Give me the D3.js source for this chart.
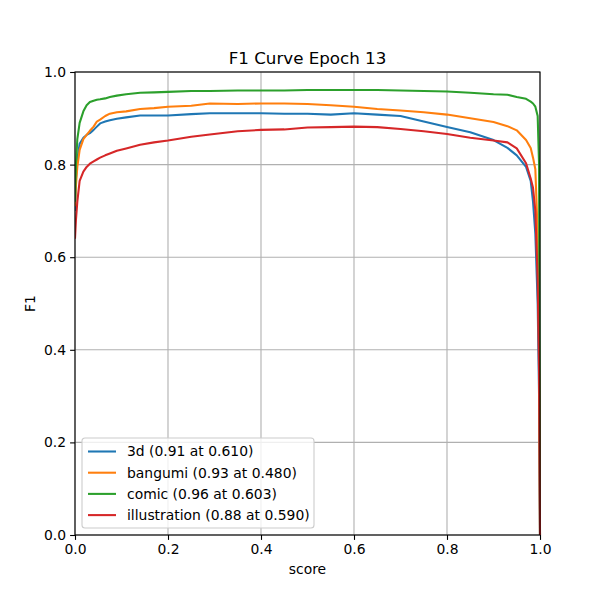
<!DOCTYPE html>
<html>
<head>
<meta charset="utf-8">
<script src="https://cdn.jsdelivr.net/npm/d3@7"></script>
<style>
  body { margin: 0; background: #fff; }
  svg { font-family: "DejaVu Sans", sans-serif; }
</style>
</head>
<body>
<svg width="600" height="600"></svg>
<script>
// score thresholds (shared x values)
let scores = [0, 0.002, 0.005, 0.01, 0.018, 0.025, 0.032, 0.04, 0.047, 0.054, 0.065, 0.075, 0.09, 0.11, 0.14, 0.17, 0.2, 0.25, 0.29, 0.35,
  0.4, 0.45, 0.5, 0.55, 0.6, 0.65, 0.7, 0.75, 0.8, 0.85, 0.9, 0.93, 0.95, 0.97, 0.98, 0.985, 0.99, 0.995, 0.998, 1.0];

let f1_3d = [0.70, 0.77, 0.81, 0.845, 0.858, 0.864, 0.868, 0.875, 0.882, 0.889, 0.893, 0.896, 0.899, 0.902, 0.906, 0.906, 0.906, 0.909, 0.911, 0.911,
  0.911, 0.910, 0.910, 0.908, 0.911, 0.908, 0.905, 0.893, 0.881, 0.870, 0.853, 0.836, 0.820, 0.795, 0.765, 0.72, 0.65, 0.5, 0.3, 0.0];
let f1_bangumi = [0.71, 0.755, 0.795, 0.832, 0.855, 0.864, 0.873, 0.882, 0.893, 0.897, 0.905, 0.91, 0.913, 0.915, 0.92, 0.922, 0.925, 0.927, 0.932, 0.931,
  0.932, 0.932, 0.931, 0.928, 0.925, 0.920, 0.917, 0.913, 0.908, 0.900, 0.892, 0.883, 0.874, 0.853, 0.836, 0.815, 0.79, 0.65, 0.4, 0.0];
let f1_comic = [0.72, 0.80, 0.855, 0.89, 0.915, 0.928, 0.935, 0.938, 0.94, 0.941, 0.943, 0.946, 0.949, 0.952, 0.955, 0.956, 0.957, 0.959, 0.959, 0.960,
  0.960, 0.960, 0.961, 0.961, 0.961, 0.961, 0.960, 0.959, 0.958, 0.955, 0.952, 0.951, 0.946, 0.942, 0.936, 0.932, 0.925, 0.905, 0.80, 0.0];
let f1_illustration = [0.64, 0.68, 0.72, 0.765, 0.785, 0.795, 0.802, 0.807, 0.811, 0.815, 0.82, 0.824, 0.83, 0.835, 0.843, 0.848, 0.852, 0.86, 0.865, 0.872,
  0.875, 0.876, 0.88, 0.881, 0.882, 0.881, 0.877, 0.872, 0.866, 0.858, 0.852, 0.848, 0.835, 0.803, 0.77, 0.75, 0.70, 0.55, 0.35, 0.0];

let seriesNames = ["3d (0.91 at 0.610)", "bangumi (0.93 at 0.480)", "comic (0.96 at 0.603)", "illustration (0.88 at 0.590)"];
let seriesValues = [f1_3d, f1_bangumi, f1_comic, f1_illustration];
let colors = ["#1f77b4", "#ff7f0e", "#2ca02c", "#d62728"];
let tickValues = [0, 0.2, 0.4, 0.6, 0.8, 1.0];

let margin = {top: 72, right: 60, bottom: 65, left: 75};
let svg = d3.select("svg");
let plotWidth = 600 - margin.left - margin.right;
let plotHeight = 600 - margin.top - margin.bottom;

let x = d3.scaleLinear().domain([0, 1]).range([0, plotWidth]);
let y = d3.scaleLinear().domain([0, 1]).range([plotHeight, 0]);

let g = svg.append("g").attr("transform", "translate(" + margin.left + "," + margin.top + ")");

// grid
g.selectAll(".gx").data(tickValues).enter().append("line")
  .attr("x1", d => x(d)).attr("x2", d => x(d))
  .attr("y1", 0).attr("y2", plotHeight)
  .attr("stroke", "#b0b0b0").attr("stroke-width", 1.1);
g.selectAll(".gy").data(tickValues).enter().append("line")
  .attr("y1", d => y(d)).attr("y2", d => y(d))
  .attr("x1", 0).attr("x2", plotWidth)
  .attr("stroke", "#b0b0b0").attr("stroke-width", 1.1);

// curves
let line = d3.line()
  .x((d, i) => x(scores[i]))
  .y(d => y(d));

g.append("defs").append("clipPath").attr("id", "clip")
  .append("rect").attr("x", 0).attr("y", -2).attr("width", plotWidth + 2).attr("height", plotHeight + 4);

g.append("g").attr("clip-path", "url(#clip)")
  .selectAll("path").data(seriesValues).enter().append("path")
  .attr("d", line)
  .attr("fill", "none")
  .attr("stroke", (d, i) => colors[i])
  .attr("stroke-width", 2.08)
  .attr("stroke-linejoin", "round");

// axes
let fmt = d3.format(".1f");
let xAxis = g.append("g").attr("transform", "translate(0," + plotHeight + ")")
  .call(d3.axisBottom(x).tickValues(tickValues).tickFormat(fmt).tickSize(4.9).tickPadding(4));
let yAxis = g.append("g")
  .call(d3.axisLeft(y).tickValues(tickValues).tickFormat(fmt).tickSize(4.9).tickPadding(4));
[xAxis, yAxis].forEach(a => {
  a.select(".domain").remove();
  a.selectAll("text").attr("font-size", 13.9).attr("font-family", "DejaVu Sans").attr("fill", "#000");
  a.selectAll("line").attr("stroke", "#000").attr("stroke-width", 1.1);
});

// frame
g.append("rect").attr("width", plotWidth).attr("height", plotHeight)
  .attr("fill", "none").attr("stroke", "#000").attr("stroke-width", 1.1);

// labels
svg.append("text").attr("x", margin.left + plotWidth / 2).attr("y", 64)
  .attr("text-anchor", "middle").attr("font-size", 16.7).text("F1 Curve Epoch 13");
svg.append("text").attr("x", margin.left + plotWidth / 2).attr("y", 574)
  .attr("text-anchor", "middle").attr("font-size", 13.9).text("score");
svg.append("text").attr("transform", "translate(35," + (margin.top + plotHeight / 2) + ") rotate(-90)")
  .attr("text-anchor", "middle").attr("font-size", 13.9).text("F1");

// legend
let legend = g.append("g").attr("transform", "translate(7," + (plotHeight - 97) + ")");
legend.append("rect").attr("width", 232).attr("height", 90).attr("rx", 3)
  .attr("fill", "#fff").attr("fill-opacity", 0.8).attr("stroke", "#cccccc").attr("stroke-width", 1.1);
let items = legend.selectAll(".item").data(seriesNames).enter().append("g")
  .attr("transform", (d, i) => "translate(0," + (13.5 + i * 21.2) + ")");
items.append("line").attr("x1", 6).attr("x2", 34)
  .attr("stroke", (d, i) => colors[i]).attr("stroke-width", 2.08);
items.append("text").attr("x", 45).attr("dy", "0.35em").attr("font-size", 13.9).text(d => d);
</script>
</body>
</html>
